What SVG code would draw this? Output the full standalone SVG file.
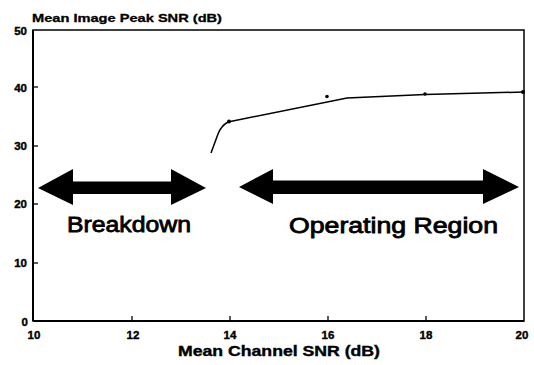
<svg xmlns="http://www.w3.org/2000/svg" width="534" height="365" viewBox="0 0 534 365">
<style>
.t{font-family:"Liberation Sans",Arial,sans-serif;font-weight:bold;fill:#000}
.tick{font-size:11.5px}
.ax{stroke:#000;fill:none}
.big{font-weight:normal;stroke:#000;stroke-width:0.8;font-size:21.5px}
</style>
<rect width="534" height="365" fill="#fff"/>
<g id="axes">
<rect class="ax" x="33" y="30" width="491" height="291" stroke-width="1.5"/>
<line class="ax" x1="33" y1="30" x2="33" y2="321" stroke-width="2"/>
<line class="ax" x1="33" y1="321" x2="524" y2="321" stroke-width="2"/>
<g stroke="#000" stroke-width="1.3">
<line x1="33" y1="87" x2="38" y2="87"/>
<line x1="33" y1="146" x2="38" y2="146"/>
<line x1="33" y1="204" x2="38" y2="204"/>
<line x1="33" y1="263" x2="38" y2="263"/>
<line x1="132" y1="321" x2="132" y2="316"/>
<line x1="230" y1="321" x2="230" y2="316"/>
<line x1="328" y1="321" x2="328" y2="316"/>
<line x1="426" y1="321" x2="426" y2="316"/>
</g>
<g class="t tick" text-anchor="end" stroke="#000" stroke-width="0.4">
<text x="27" y="35">50</text>
<text x="27" y="92">40</text>
<text x="27" y="150">30</text>
<text x="27" y="208">20</text>
<text x="27" y="267">10</text>
<text x="28" y="326">0</text>
</g>
<g class="t tick" text-anchor="middle" stroke="#000" stroke-width="0.4">
<text x="34" y="339">10</text>
<text x="133" y="339">12</text>
<text x="230" y="339">14</text>
<text x="328" y="339">16</text>
<text x="426" y="339">18</text>
<text x="522" y="339">20</text>
</g>
<text class="t" x="32" y="22" font-size="11.5" stroke="#000" stroke-width="0.3" textLength="190" lengthAdjust="spacingAndGlyphs">Mean Image Peak SNR (dB)</text>
<text class="t" x="178" y="356" font-size="15" stroke="#000" stroke-width="0.4" textLength="202" lengthAdjust="spacingAndGlyphs">Mean Channel SNR (dB)</text>
</g>
<g id="curve">
<path class="ax" stroke-width="1.5" d="M211,153 L218,134 Q221,126 228,122 L347,98 L425,94.5 L524,92"/>
<circle cx="229" cy="121.5" r="2"/>
<circle cx="327" cy="96.5" r="1.8"/>
<circle cx="425" cy="94" r="1.8"/>
<circle cx="523" cy="92" r="2"/>
</g>
<g id="breakdown">
<polygon points="38,188 73,169 73,181.5 171,181.5 171,169 206,188 171,205 171,194 73,194 73,205"/>
<text class="t big" x="67" y="232" textLength="124" lengthAdjust="spacingAndGlyphs">Breakdown</text>
</g>
<g id="operating">
<polygon points="239,187 273,169 273,180.5 483,180.5 483,169 519,187 483,204 483,194 273,194 273,204"/>
<text class="t big" x="289" y="233" textLength="209" lengthAdjust="spacingAndGlyphs">Operating Region</text>
</g>
</svg>
